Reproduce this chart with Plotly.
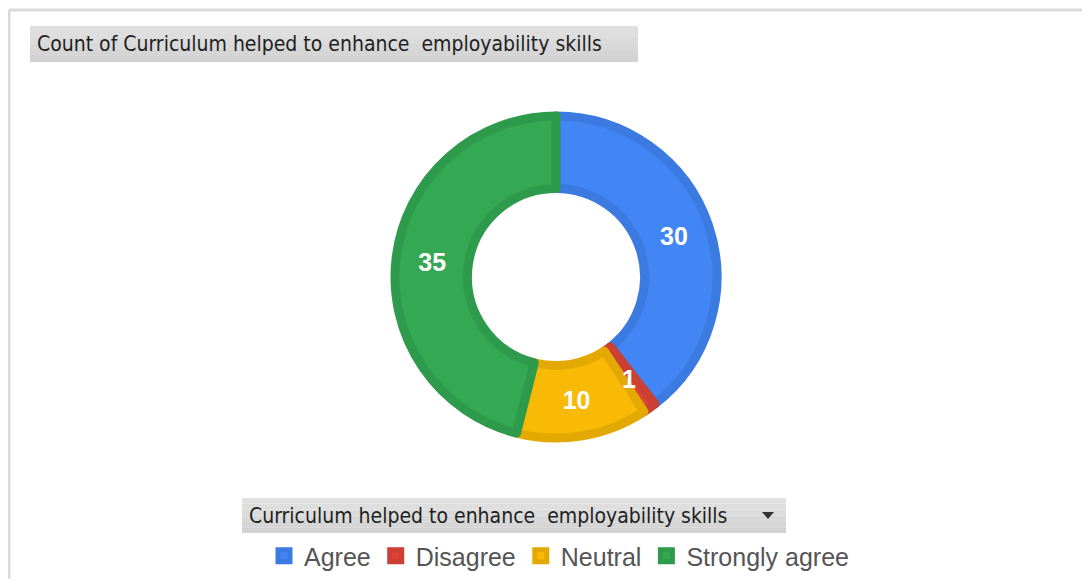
import math
import plotly.graph_objects as go

# Survey responses
categories = ["Agree", "Disagree", "Neutral", "Strongly agree"]
counts = [30, 1, 10, 35]

# Fill and (darker) edge colours per slice
fill_colors = ["#4285F4", "#DB4437", "#F9BA05", "#34A853"]
edge_colors = ["#3B7AE0", "#CC3F33", "#E3A900", "#2E9A4B"]

chart_title = "Count of Curriculum helped to enhance  employability skills"
filter_label = "Curriculum helped to enhance  employability skills"

# page is offset by the 8px body margin, so work in page pixels and convert
OFF = 8
FW, FH = 1090 - 2 * OFF, 587 - 2 * OFF


def px_x(x):
    return (x - OFF) / FW


def px_y(y):
    return 1 - (y - OFF) / FH


# donut geometry (page pixels)
CX, CY, R = 556, 277, 161
HOLE = 0.55
STROKE = 9

# the tiny "Disagree" slice gets its label placed by hand at mid-angle / mid-radius
total = sum(counts)
small_idx = 1
text_pos = ["none" if i == small_idx else "inside" for i in range(len(counts))]
mid_angle = (sum(counts[:small_idx]) + counts[small_idx] / 2) / total * 2 * math.pi
mid_r = R * (1 + HOLE) / 2
lbl_x = CX + mid_r * math.sin(mid_angle)
lbl_y = CY - mid_r * math.cos(mid_angle)

fig = go.Figure()

fig.add_trace(
    go.Pie(
        labels=categories,
        values=counts,
        sort=False,
        direction="clockwise",
        rotation=0,
        hole=HOLE,
        domain=dict(x=[px_x(CX - R), px_x(CX + R)], y=[px_y(CY + R), px_y(CY - R)]),
        marker=dict(colors=fill_colors, line=dict(color=edge_colors, width=STROKE)),
        textinfo="value",
        textposition=text_pos,
        insidetextorientation="horizontal",
        textfont=dict(family="Liberation Sans, Arial", size=25, color="white", weight="bold"),
        hovertemplate="<b>%{label}</b><br>Count: %{value}<extra></extra>",
    )
)

shapes = [
    # outer frame (top and left edges visible)
    dict(type="line", xref="paper", yref="paper", x0=px_x(9), x1=1.01, y0=px_y(10), y1=px_y(10),
         line=dict(color="#D9D9D9", width=3)),
    dict(type="line", xref="paper", yref="paper", x0=px_x(9), x1=px_x(9), y0=px_y(10), y1=-0.02,
         line=dict(color="#D9D9D9", width=3)),
]

# title and filter boxes with a light vertical gradient
for (x0, x1, y0, y1) in [(30, 638, 26, 62), (242, 786, 498, 533)]:
    steps = 6
    for i in range(steps):
        g = 224 - int(i * 14 / (steps - 1))
        ya = y0 + (y1 - y0) * i / steps
        yb = y0 + (y1 - y0) * (i + 1) / steps
        shapes.append(
            dict(type="rect", xref="paper", yref="paper",
                 x0=px_x(x0), x1=px_x(x1), y0=px_y(yb), y1=px_y(ya),
                 fillcolor=f"rgb({g},{g},{g})", line=dict(width=0), layer="below")
        )

# dropdown arrow
shapes.append(
    dict(type="path", xref="paper", yref="paper",
         path=f"M {px_x(762)} {px_y(512)} L {px_x(774)} {px_y(512)} L {px_x(768)} {px_y(519)} Z",
         fillcolor="#333333", line=dict(width=0))
)

box_font = dict(family="DejaVu Sans Condensed, Liberation Sans", size=21, color="#1F1F1F")

annotations = [
    dict(text=chart_title, xref="paper", yref="paper", x=px_x(35), y=px_y(44),
         xanchor="left", yanchor="middle", showarrow=False, font=box_font),
    dict(text=filter_label, xref="paper", yref="paper", x=px_x(247), y=px_y(516),
         xanchor="left", yanchor="middle", showarrow=False, font=box_font),
    dict(text=str(counts[small_idx]), xref="paper", yref="paper",
         x=px_x(lbl_x), y=px_y(lbl_y), xanchor="center", yanchor="middle", showarrow=False,
         font=dict(family="Liberation Sans, Arial", size=25, color="white", weight="bold")),
]

fig.update_layout(
    width=FW,
    height=FH,
    margin=dict(l=0, r=0, t=0, b=0),
    paper_bgcolor="white",
    plot_bgcolor="white",
    shapes=shapes,
    annotations=annotations,
    showlegend=True,
    legend=dict(
        orientation="h",
        x=px_x(559),
        xanchor="center",
        y=px_y(556),
        yanchor="middle",
        font=dict(family="Liberation Sans, Arial", size=25, color="#555555"),
        itemclick=False,
    ),
)

fig.write_html("out.html")
